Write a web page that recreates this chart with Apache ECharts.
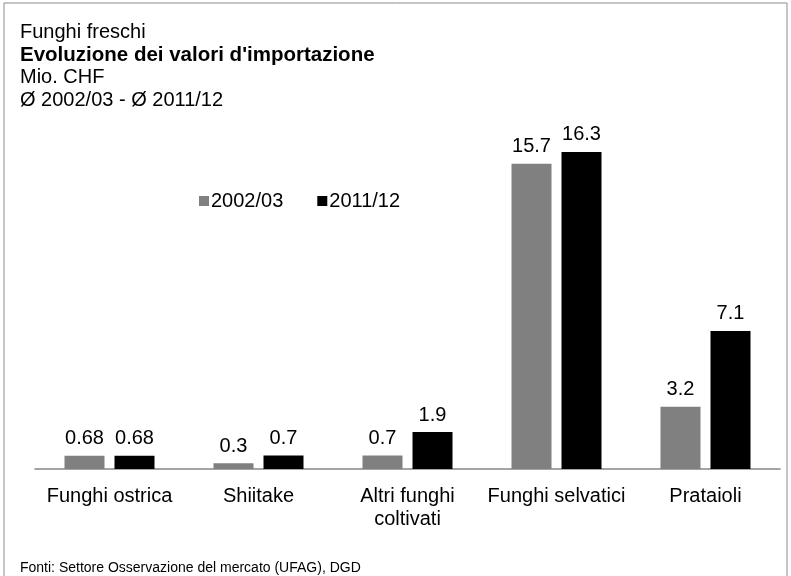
<!DOCTYPE html>
<html>
<head>
<meta charset="utf-8">
<script src="https://cdn.jsdelivr.net/npm/echarts@6/dist/echarts.min.js"></script>
<style>
  html, body { margin: 0; padding: 0; background: #fff; }
  #chart { width: 791px; height: 576px; }
</style>
</head>
<body>
<div id="chart"></div>
<script>
// categorie e valori (Mio. CHF)
var categories = ['Funghi ostrica', 'Shiitake', 'Altri funghi\ncoltivati', 'Funghi selvatici', 'Prataioli'];
var values2002 = [0.68, 0.3, 0.7, 15.7, 3.2];
var values2011 = [0.68, 0.7, 1.9, 16.3, 7.1];
var seriesNames = ['2002/03', '2011/12'];
var titleLines = ['Funghi freschi', "Evoluzione dei valori d'importazione", 'Mio. CHF', 'Ø 2002/03 - Ø 2011/12'];
var footer = 'Fonti: Settore Osservazione del mercato (UFAG), DGD';

var font = '"Liberation Sans", Arial, sans-serif';
var chart = echarts.init(document.getElementById('chart'));

var option = {
  backgroundColor: '#fff',
  animation: false,
  textStyle: { fontFamily: font },
  graphic: [
    { type: 'rect', shape: { x: 4, y: 3, width: 783, height: 580 },
      style: { fill: 'none', stroke: '#8c8c8c', lineWidth: 1 }, silent: true },
    { type: 'text', left: 20, top: 22, style: { text: titleLines[0], font: '20px ' + font, fill: '#000' } },
    { type: 'text', left: 20, top: 45, style: { text: titleLines[1], font: 'bold 20.5px ' + font, fill: '#000' } },
    { type: 'text', left: 20, top: 67, style: { text: titleLines[2], font: '20px ' + font, fill: '#000' } },
    { type: 'text', left: 20, top: 90, style: { text: titleLines[3], font: '20px ' + font, fill: '#000' } },
    { type: 'text', left: 20, top: 561, style: { text: footer, font: '14px ' + font, fill: '#000' } }
  ],
  legend: {
    left: 194, top: 186,
    itemWidth: 10, itemHeight: 10, itemGap: 34,
    icon: 'rect',
    textStyle: { fontSize: 20, color: '#000', fontFamily: font, padding: [0, 0, 0, -3] },
    data: seriesNames
  },
  grid: { left: 35, right: 11, top: 80, bottom: 107, containLabel: false },
  xAxis: {
    type: 'category',
    data: categories,
    axisLine: { show: true, lineStyle: { color: '#868686', width: 1.5 } },
    axisTick: { show: false },
    axisLabel: { fontSize: 20, color: '#000', fontFamily: font, margin: 16, lineHeight: 23, interval: 0 }
  },
  yAxis: {
    type: 'value', min: 0, max: 20,
    show: false,
    splitLine: { show: false }
  },
  series: [
    {
      name: seriesNames[0], type: 'bar', data: values2002,
      barWidth: 40, barGap: '25%',
      itemStyle: { color: '#808080' },
      label: { show: true, position: 'top', distance: 7, fontSize: 20, color: '#000', fontFamily: font }
    },
    {
      name: seriesNames[1], type: 'bar', data: values2011,
      barWidth: 40, barGap: '25%',
      itemStyle: { color: '#000000' },
      label: { show: true, position: 'top', distance: 7, fontSize: 20, color: '#000', fontFamily: font }
    }
  ]
};

chart.setOption(option);
</script>
</body>
</html>
